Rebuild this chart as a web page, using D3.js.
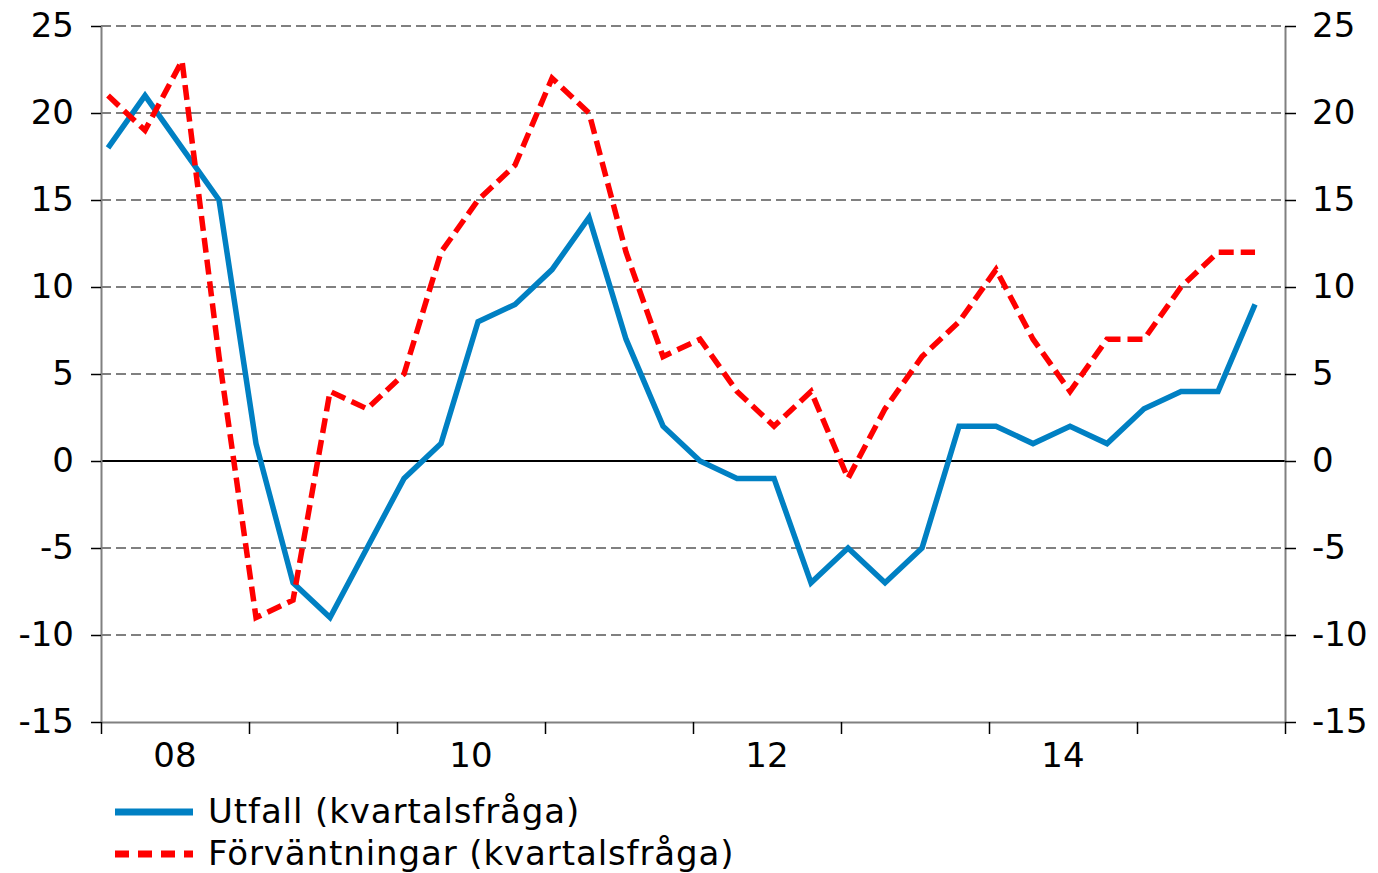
<!DOCTYPE html>
<html>
<head>
<meta charset="utf-8">
<script src="https://cdn.jsdelivr.net/npm/d3@7"></script>
<style>
  body { margin: 0; background: #fff; }
  svg { display: block; font-family: 'DejaVu Sans', Verdana, sans-serif; }
</style>
</head>
<body>
<div id="chart"></div>
<script>
// quarterly survey, 2008 Q1 - 2015 Q4
const quarters = d3.range(32);
const utfall = [18, 21, 18, 15, 1, -7, -9, -5, -1, 1, 8, 9, 11, 14, 7, 2,
  0, -1, -1, -7, -5, -7, -5, 2, 2, 1, 2, 1, 3, 4, 4, 9];
const forvantningar = [21, 19, 23, 6, -9, -8, 4, 3, 5, 12, 15, 17, 22, 20, 12, 6,
  7, 4, 2, 4, -1, 3, 6, 8, 11, 7, 4, 7, 7, 10, 12, 12];
const yTicks = [25, 20, 15, 10, 5, 0, -5, -10, -15];
const yearLabels = ['08', '10', '12', '14'];
const seriesNames = ['Utfall (kvartalsfråga)', 'Förväntningar (kvartalsfråga)'];

const width = 1378, height = 873;
const margin = { top: 26, right: 93, bottom: 151, left: 101 };
const blue = '#0080c3', red = '#ff0000', grey = '#808080';
const fontSize = 34;

const svg = d3.select('#chart').append('svg')
  .attr('width', width)
  .attr('height', height);

const x = d3.scaleLinear()
  .domain([0, 32])
  .range([margin.left, width - margin.right]);
const y = d3.scaleLinear()
  .domain([-15, 25])
  .range([height - margin.bottom, margin.top]);

// points sit a bit into each quarter
const pointOffset = 0.19;

// grid lines
svg.append('g')
  .selectAll('line')
  .data(yTicks.filter(d => d !== 0 && d !== -15))
  .join('line')
  .attr('x1', x(0))
  .attr('x2', x(32))
  .attr('y1', d => y(d))
  .attr('y2', d => y(d))
  .attr('stroke', grey)
  .attr('stroke-width', 2)
  .attr('stroke-dasharray', '10,5');

// zero line
svg.append('line')
  .attr('x1', x(0))
  .attr('x2', x(32))
  .attr('y1', y(0))
  .attr('y2', y(0))
  .attr('stroke', '#000')
  .attr('stroke-width', 2);

function styleAxis(g) {
  g.select('.domain').attr('stroke', grey).attr('stroke-width', 2);
  g.selectAll('.tick line').attr('stroke', '#000').attr('stroke-width', 1.5);
  g.selectAll('.tick text').attr('font-size', fontSize).attr('fill', '#000')
    .attr('font-family', "'DejaVu Sans', Verdana, sans-serif");
}

const plainFormat = d => String(d);

svg.append('g')
  .attr('transform', `translate(${x(0)},0)`)
  .call(d3.axisLeft(y).tickValues(yTicks).tickFormat(plainFormat)
    .tickSize(10).tickPadding(17).tickSizeOuter(0))
  .call(styleAxis);

svg.append('g')
  .attr('transform', `translate(${x(32)},0)`)
  .call(d3.axisRight(y).tickValues(yTicks).tickFormat(plainFormat)
    .tickSize(11).tickPadding(16).tickSizeOuter(0))
  .call(styleAxis);

// bottom axis: year boundaries as ticks, labels every other year
svg.append('g')
  .attr('transform', `translate(0,${y(-15)})`)
  .call(d3.axisBottom(x).tickValues(d3.range(0, 33, 4)).tickSize(12).tickFormat('').tickSizeOuter(0))
  .call(styleAxis);

svg.append('g')
  .selectAll('text')
  .data(yearLabels)
  .join('text')
  .attr('x', (d, i) => x(i * 8 + 2))
  .attr('y', y(-15) + 45)
  .attr('text-anchor', 'middle')
  .attr('font-size', fontSize)
  .text(d => d);

const line = d3.line()
  .x((d, i) => x(quarters[i] + pointOffset))
  .y(d => y(d));

svg.append('path')
  .datum(utfall)
  .attr('fill', 'none')
  .attr('stroke', blue)
  .attr('stroke-width', 5.5)
  .attr('d', line);

svg.append('path')
  .datum(forvantningar)
  .attr('fill', 'none')
  .attr('stroke', red)
  .attr('stroke-width', 5.5)
  .attr('stroke-dasharray', '15,7')
  .attr('d', line);

// legend
const legend = svg.append('g').attr('transform', 'translate(115,812)');
[blue, red].forEach((c, i) => {
  const row = legend.append('g').attr('transform', `translate(0,${i * 42})`);
  row.append('line')
    .attr('x1', 0).attr('x2', 78)
    .attr('stroke', c)
    .attr('stroke-width', 7)
    .attr('stroke-dasharray', i === 1 ? '14,9' : null);
  row.append('text')
    .attr('x', 93)
    .attr('y', 11)
    .attr('font-size', fontSize)
    .attr('letter-spacing', 0.9)
    .text(seriesNames[i]);
});
</script>
</body>
</html>
